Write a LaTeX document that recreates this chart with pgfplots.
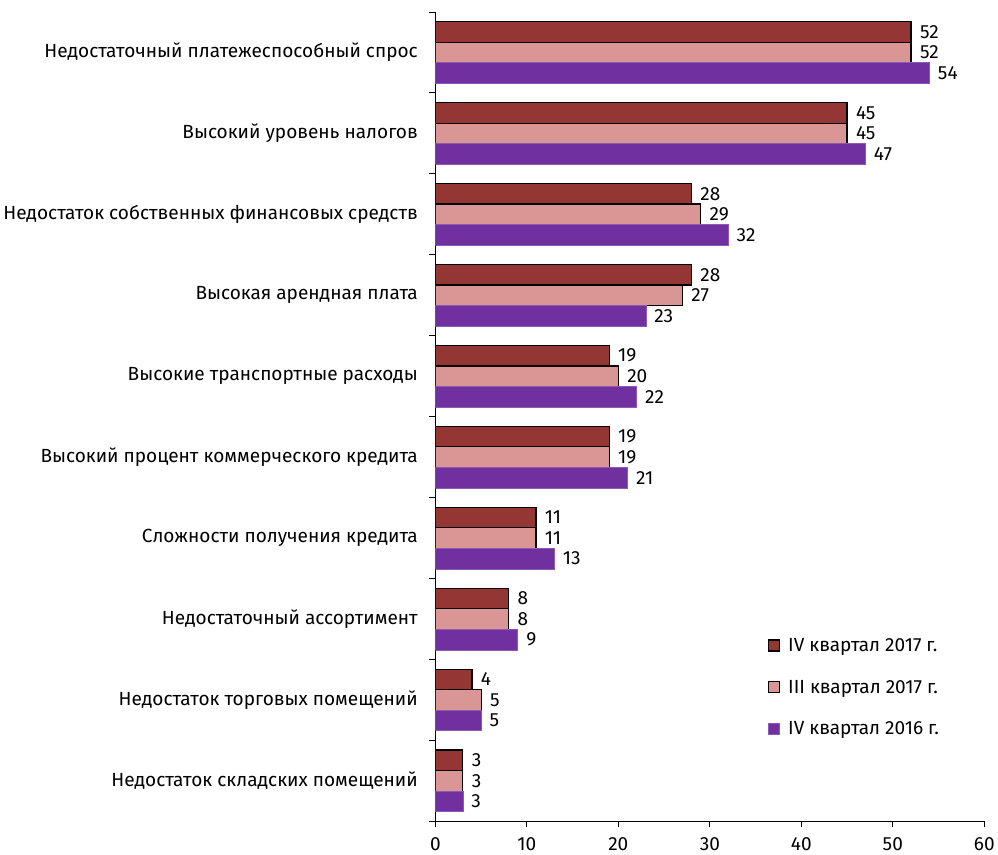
\documentclass[border=0pt]{standalone}
\usepackage{fontspec}
\setmainfont{Fira Sans}
\usepackage{pgfplots}
\usepackage{pgfplotstable}
\pgfplotsset{compat=1.18}
\definecolor{dred}{HTML}{943634}
\definecolor{pinkb}{HTML}{D99694}
\definecolor{purp}{HTML}{7030A0}
\pgfplotstableread{
y a b c
9 52 52 54
8 45 45 47
7 28 29 32
6 28 27 23
5 19 20 22
4 19 19 21
3 11 11 13
2 8 8 9
1 4 5 5
0 3 3 3
}\data
\begin{document}
\begin{tikzpicture}
\begin{axis}[
  scale only axis,
  width=548pt, height=808pt,
  xbar, bar width=20.5pt,
  xmin=0, xmax=60, ymin=-0.5, ymax=9.5,
  xtick={0,10,...,60},
  ytick={0,...,9},
  yticklabels={Недостаток складских помещений, Недостаток торговых помещений, Недостаточный ассортимент, Сложности получения кредита, Высокий процент коммерческого кредита, Высокие транспортные расходы, Высокая арендная плата, Недостаток собственных финансовых средств, Высокий уровень налогов, Недостаточный платежеспособный спрос},
  minor ytick={-0.5,0.5,...,9.5},
  major y tick style={draw=none},
  minor tick length=6pt,
  major tick length=6pt,
  tick align=outside,
  axis x line*=bottom, axis y line*=left,
  axis line style={line width=1pt},
  every tick/.style={black, line width=1pt},
  ticklabel style={font=\fontsize{19}{22}\selectfont},
  /pgf/number format/assume math mode=true,
  yticklabel style={xshift=-8pt},
  xticklabel style={yshift=-7pt},
  nodes near coords,
  nodes near coords style={font=\fontsize{19}{22}\selectfont, xshift=5pt},
  legend style={at={(0.6,0.1)}, anchor=south west, draw=none,
    font=\fontsize{19}{22}\selectfont, row sep=23pt,
    /tikz/every odd column/.append style={column sep=6pt}},
  legend cell align=left,
  legend image code/.code={\draw[#1] (0pt,-5.5pt) rectangle (11pt,5.5pt);},
]
\addplot[fill=dred, draw=black, line width=1.2pt, bar shift=20.5pt] table[x=a, y=y] {\data};
\addlegendentry{IV квартал 2017 г.}
\addplot[fill=pinkb, draw=black, line width=1.2pt, bar shift=0pt] table[x=b, y=y] {\data};
\addlegendentry{III квартал 2017 г.}
\addplot[fill=purp, draw=purp!80, line width=0.5pt, bar shift=-20.5pt] table[x=c, y=y] {\data};
\addlegendentry{IV квартал 2016 г.}
\end{axis}
\path ([yshift=12pt]current axis.north west) -- ([yshift=12pt]current axis.north east);
\end{tikzpicture}
\end{document}
